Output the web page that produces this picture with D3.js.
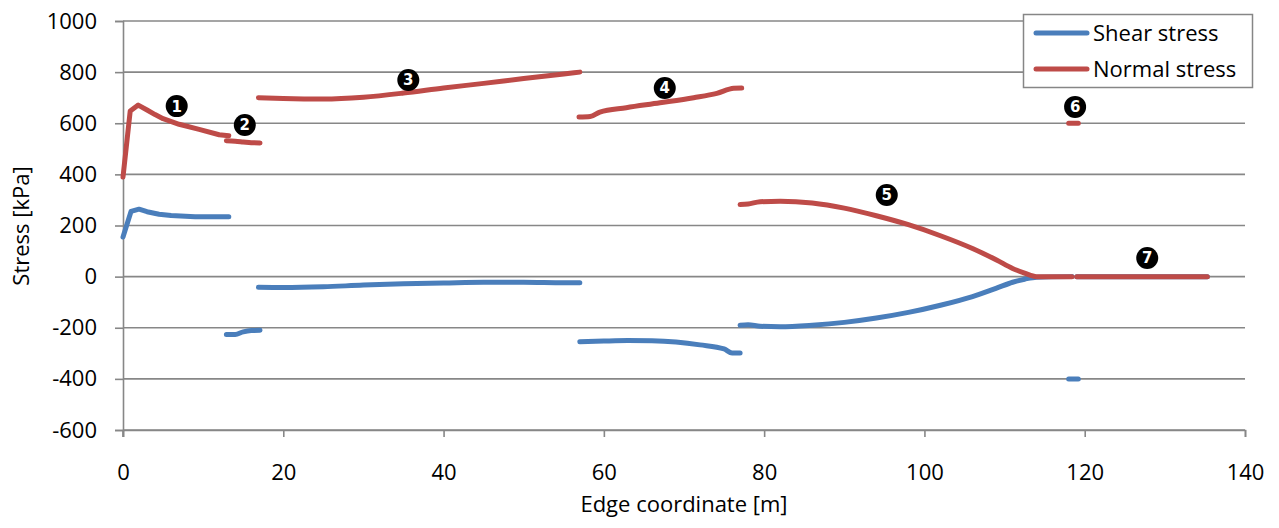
<!DOCTYPE html>
<html>
<head>
<meta charset="utf-8">
<script src="https://cdn.jsdelivr.net/npm/d3@7"></script>
<style>
  body { margin: 0; background: #fff; }
  text { font-family: "Open Sans", sans-serif; fill: #000; }
</style>
</head>
<body>
<div id="chart"></div>
<script>
var width = 1279;
var height = 528;

// x ticks and y ticks
var xTicks = [0, 20, 40, 60, 80, 100, 120, 140];
var yTicks = [-600, -400, -200, 0, 200, 400, 600, 800, 1000];

// shear stress, one array per edge segment: [coordinate, stress]
var shear1 = [[0, 155], [1, 255], [2, 264], [3, 254], [4.5, 244], [6, 239], [9, 234], [13.2, 234]];
var shear2 = [[12.9, -226], [14, -226], [15, -216], [16, -211], [17.1, -210]];
var shear3 = [[16.9, -42], [20, -43], [25, -40], [30, -33], [35, -28], [40, -25], [45, -22], [50, -22], [55, -24], [57, -24]];
var shear4 = [[57, -255], [60, -252], [63, -250], [66, -251], [69, -256], [72, -267], [75, -283], [76, -299], [77, -299]];
var shear5 = [[77, -190], [78, -188], [79.5, -194], [82, -196], [86, -190], [90, -179], [94, -162], [98, -140], [102, -112], [106, -78], [109, -45], [111, -22], [112.5, -10], [114, -2], [118.4, 0]];
var shear6 = [[118, -400], [119.2, -400]];
var shear7 = [[119, 0], [135.3, 0]];

// normal stress segments
var normal1 = [[0, 390], [0.9, 648], [1.9, 671], [3, 652], [4, 634], [5, 618], [7, 596], [9.5, 576], [12, 555], [13.2, 551]];
var normal2 = [[12.9, 532], [14, 530], [15, 527], [16, 524], [17.1, 523]];
var normal3 = [[16.9, 700], [20, 697], [25, 695], [30, 702], [35, 718], [40, 738], [45, 756], [50, 775], [55, 793], [57, 800]];
var normal4 = [[56.9, 624], [58.3, 626], [59.5, 644], [62.8, 661], [67, 680], [71.2, 700], [74.1, 717], [76.2, 737], [77.2, 738]];
var normal5 = [[77, 282], [78, 284], [79.5, 293], [82, 295], [86, 288], [90, 268], [94, 238], [98, 203], [102, 160], [106, 110], [109, 65], [111, 32], [112.5, 14], [114, 0], [118.4, 0]];
var normal6 = [[118, 600], [119.2, 600]];
var normal7 = [[119, 0], [135.3, 0]];

var shearSegments = [shear1, shear2, shear3, shear4, shear5, shear6, shear7];
var normalSegments = [normal1, normal2, normal3, normal4, normal5, normal6, normal7];

// numbered callouts: [label, coordinate, stress]
var callouts = [["1", 6.7, 667], ["2", 15.2, 593], ["3", 35.6, 769], ["4", 67.6, 738], ["5", 95.3, 319], ["6", 118.8, 664], ["7", 127.8, 73]];

var seriesNames = ["Shear stress", "Normal stress"];
var seriesColors = ["#4A7EBB", "#BE4B48"];

var x = d3.scaleLinear().domain([0, 140]).range([123, 1245]);
var y = d3.scaleLinear().domain([-600, 1000]).range([430, 21]);

var svg = d3.select('#chart')
  .append('svg')
  .attr('width', width)
  .attr('height', height);

// horizontal gridlines
svg.append('g')
  .selectAll('line')
  .data(yTicks)
  .enter()
  .append('line')
  .attr('x1', x(0))
  .attr('x2', x(140))
  .attr('y1', function(d) { return y(d); })
  .attr('y2', function(d) { return y(d); })
  .attr('stroke', '#878787')
  .attr('stroke-width', 1.6);

var plain = function(d) { return String(d); };

// y axis
var yAxis = svg.append('g')
  .attr('transform', 'translate(' + x(0) + ',0)')
  .call(d3.axisLeft(y).tickValues(yTicks).tickFormat(plain).tickSize(8).tickPadding(18));

// x axis
var xAxis = svg.append('g')
  .attr('transform', 'translate(0,' + y(-600) + ')')
  .call(d3.axisBottom(x).tickValues(xTicks).tickFormat(plain).tickSize(7).tickPadding(27));

[yAxis, xAxis].forEach(function(a) {
  a.select('.domain').attr('stroke', '#878787').attr('stroke-width', 1.6);
  a.selectAll('.tick line').attr('stroke', '#878787').attr('stroke-width', 1.6);
  a.selectAll('.tick text')
    .style('font-family', '"Open Sans", sans-serif')
    .style('font-size', '22px')
    .attr('fill', '#000');
});
// y axis runs down to meet the x tick at 0
yAxis.append('line')
  .attr('x1', 0).attr('x2', 0)
  .attr('y1', y(-600)).attr('y2', y(-600) + 7)
  .attr('stroke', '#878787').attr('stroke-width', 1.6);

var smooth = d3.line()
  .x(function(d) { return x(d[0]); })
  .y(function(d) { return y(d[1]); })
  .curve(d3.curveMonotoneX);
var straight = d3.line()
  .x(function(d) { return x(d[0]); })
  .y(function(d) { return y(d[1]); });

[shearSegments, normalSegments].forEach(function(segs, i) {
  svg.append('g')
    .selectAll('path')
    .data(segs)
    .enter()
    .append('path')
    .attr('d', function(d, j) { return j === 0 ? straight(d) : smooth(d); })
    .attr('fill', 'none')
    .attr('stroke', seriesColors[i])
    .attr('stroke-width', 5)
    .attr('stroke-linecap', 'round')
    .attr('stroke-linejoin', 'round');
});

// callouts
var co = svg.append('g')
  .selectAll('g')
  .data(callouts)
  .enter()
  .append('g')
  .attr('transform', function(d) { return 'translate(' + x(d[1]) + ',' + y(d[2]) + ')'; });
co.append('circle').attr('r', 11).attr('fill', '#000');
co.append('text')
  .text(function(d) { return d[0]; })
  .attr('text-anchor', 'middle')
  .attr('dy', '0.36em')
  .style('font-family', '"DejaVu Sans", sans-serif')
  .style('font-weight', 'bold')
  .style('font-size', '15px')
  .style('fill', '#fff');

// axis titles
svg.append('text')
  .attr('x', (x(0) + x(140)) / 2)
  .attr('y', 512)
  .attr('text-anchor', 'middle')
  .style('font-size', '22px')
  .text('Edge coordinate [m]');

svg.append('text')
  .attr('transform', 'translate(29,226) rotate(-90)')
  .attr('text-anchor', 'middle')
  .style('font-size', '22px')
  .text('Stress [kPa]');

// legend
var legend = svg.append('g');
legend.append('rect')
  .attr('x', 1023.5).attr('y', 14.5)
  .attr('width', 229).attr('height', 73)
  .attr('fill', '#fff')
  .attr('stroke', '#868686')
  .attr('stroke-width', 1.5);

var item = legend.selectAll('g')
  .data(seriesNames)
  .enter()
  .append('g')
  .attr('transform', function(d, i) { return 'translate(0,' + (33 + i * 36) + ')'; });
item.append('line')
  .attr('x1', 1036).attr('x2', 1087)
  .attr('stroke', function(d, i) { return seriesColors[i]; })
  .attr('stroke-width', 5)
  .attr('stroke-linecap', 'round');
item.append('text')
  .attr('x', 1093)
  .attr('dy', '0.35em')
  .style('font-size', '22px')
  .text(function(d) { return d; });
</script>
</body>
</html>
